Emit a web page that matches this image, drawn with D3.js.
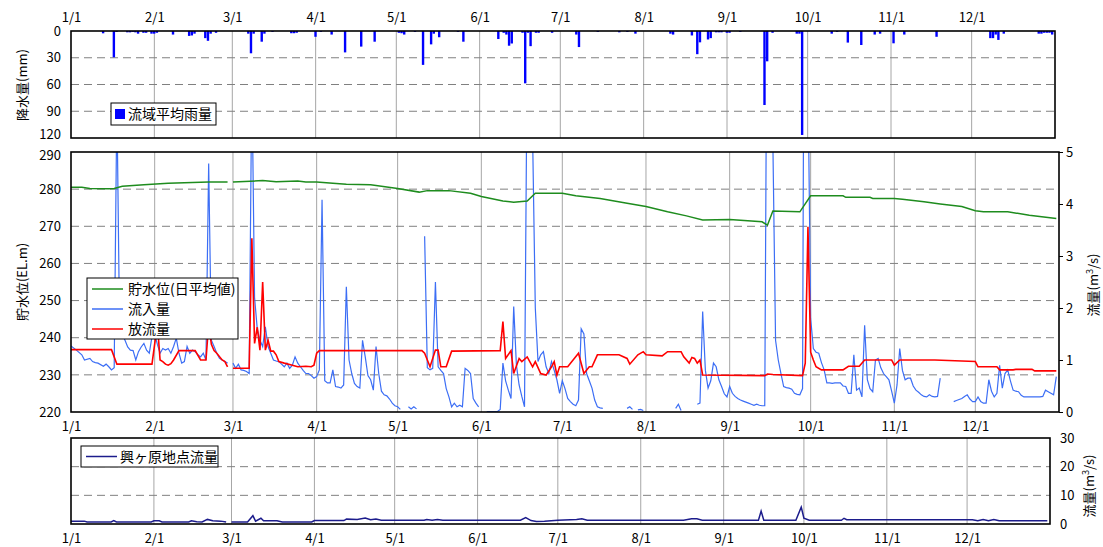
<!DOCTYPE html>
<html>
<head>
<meta charset="utf-8">
<script src="https://cdn.jsdelivr.net/npm/d3@7"></script>
<style>
  body { margin: 0; background: #fff; }
  text { font-family: "Noto Sans CJK JP", "DejaVu Sans", sans-serif; }
</style>
</head>
<body>
<div id="chart"></div>
<script>
// month labels and axis ticks
const months = ["1/1", "2/1", "3/1", "4/1", "5/1", "6/1", "7/1", "8/1", "9/1", "10/1", "11/1", "12/1"];
const rainTicks = [0, 30, 60, 90, 120];
const levelTicks = [220, 230, 240, 250, 260, 270, 280, 290];
const flowTicks = [0, 1, 2, 3, 4, 5];
const riverTicks = [0, 10, 20, 30];

// 流域平均雨量 (mm)
const rain = [
  ["1/13", 2.6], ["1/17", 29.5], ["1/18", 1], ["1/22", 1.5], ["1/23", 1.5], ["1/24", 1], ["1/25", 1.5], ["1/26", 3],
  ["1/28", 2], ["1/29", 2], ["1/31", 3], ["2/1", 3], ["2/2", 2], ["2/8", 4], ["2/14", 5.5], ["2/15", 5], ["2/16", 3],
  ["2/20", 8], ["2/21", 11], ["2/22", 3], ["2/24", 2], ["3/7", 3], ["3/8", 25], ["3/9", 3], ["3/12", 12], ["3/13", 3],
  ["3/16", 1], ["3/23", 2.5], ["3/24", 2.5], ["3/25", 2], ["4/1", 6.5], ["4/3", 1], ["4/7", 4], ["4/12", 24],
  ["4/18", 17.5], ["4/23", 12], ["5/2", 2], ["5/3", 2.5], ["5/4", 4], ["5/8", 1], ["5/11", 38], ["5/14", 15],
  ["5/15", 3], ["5/17", 7], ["5/24", 1], ["5/26", 12], ["6/8", 9], ["6/10", 2], ["6/11", 4], ["6/12", 16.5],
  ["6/13", 14], ["6/17", 2], ["6/18", 58.7], ["6/19", 2], ["6/20", 17], ["6/22", 2], ["6/23", 2], ["6/28", 2],
  ["7/7", 4], ["7/8", 18], ["7/15", 1], ["7/23", 1.5], ["7/26", 1], ["7/29", 3], ["8/11", 3], ["8/12", 4],
  ["8/19", 5], ["8/21", 26], ["8/22", 12.7], ["8/25", 9.5], ["8/26", 8], ["8/28", 1.5], ["8/29", 1.5], ["8/30", 1.5],
  ["9/1", 2], ["9/2", 2], ["9/6", 1], ["9/15", 83], ["9/16", 34], ["9/18", 2], ["9/27", 3], ["9/28", 3],
  ["9/29", 116.6], ["10/10", 3], ["10/12", 1], ["10/16", 13], ["10/21", 15.7], ["10/26", 4], ["10/28", 3],
  ["11/2", 13.8], ["11/6", 4], ["11/18", 6.5], ["12/8", 8], ["12/9", 8], ["12/10", 4], ["12/11", 10], ["12/13", 3],
  ["12/26", 3], ["12/27", 3], ["12/28", 2], ["12/29", 2], ["12/30", 2], ["12/31", 4]
];

// 貯水位(日平均値) EL.m
const level = [
  ["1/1", 280.5], ["1/5", 280.5], ["1/8", 280.2], ["1/15", 280.1], ["1/17", 280.2], ["1/20", 280.8], ["1/28", 281.2],
  ["2/6", 281.6], ["2/21", 281.9], ["2/28", 281.9], ["2/29", null], ["3/1", 281.9], ["3/12", 282.3], ["3/17", 282.0],
  ["3/25", 282.2], ["3/28", 281.9], ["4/1", 281.9], ["4/7", 281.6], ["4/12", 281.3], ["4/21", 281.2], ["5/1", 280.2],
  ["5/9", 279.2], ["5/12", 279.6], ["5/20", 279.6], ["5/28", 278.9], ["6/1", 278.0], ["6/9", 276.8], ["6/13", 276.5],
  ["6/18", 276.8], ["6/21", 278.9], ["7/1", 278.9], ["7/6", 278.2], ["7/15", 277.5], ["7/25", 276.2], ["8/1", 275.3],
  ["8/9", 273.9], ["8/16", 272.8], ["8/22", 271.7], ["9/1", 271.8], ["9/13", 271.2], ["9/15", 270.3], ["9/17", 274.1],
  ["9/27", 273.9], ["10/1", 278.2], ["10/13", 278.2], ["10/14", 277.8], ["10/23", 277.8], ["10/24", 277.5],
  ["11/1", 277.5], ["11/4", 277.3], ["11/12", 276.6], ["11/18", 276.0], ["11/26", 275.3], ["12/1", 274.2],
  ["12/4", 273.9], ["12/13", 273.9], ["12/21", 273.0], ["12/31", 272.1]
];

// 流入量 (m3/s)
const inflow = [
  ["1/1", 1.27], ["1/3", 1.19], ["1/5", 1.1], ["1/6", 1.0], ["1/8", 1.03], ["1/9", 0.97], ["1/10", 0.95], ["1/11", 0.94],
  ["1/13", 0.88], ["1/14", 0.92], ["1/15", 0.87], ["1/16", 0.81], ["1/17", 0.85], ["1/18", 6], ["1/19", 1.6],
  ["1/20", 1.5], ["1/21", 1.38], ["1/22", 1.25], ["1/23", 1.19], ["1/24", 1.18], ["1/25", 1.0], ["1/26", 1.16],
  ["1/27", 1.25], ["1/28", 1.32], ["1/29", 1.19], ["1/30", 1.13], ["1/31", 1.45], ["2/1", 1.5], ["2/2", 1.3],
  ["2/3", 1.13], ["2/4", 1.22], ["2/5", 1.19], ["2/6", 1.22], ["2/7", 1.13], ["2/8", 1.26], ["2/9", 1.42],
  ["2/10", 1.13], ["2/11", 0.94], ["2/12", 0.97], ["2/13", 1.26], ["2/14", 1.13], ["2/15", 1.19], ["2/16", 1.16],
  ["2/17", 1.1], ["2/18", 1.06], ["2/19", 1.13], ["2/20", 1.0], ["2/21", 4.78], ["2/22", 1.38], ["2/23", 1.26],
  ["2/24", 1.13], ["2/25", 1.03], ["2/26", 1.0], ["2/27", 0.97], ["2/28", 0.94], ["2/29", null],
  ["3/1", 0.94], ["3/2", 0.84], ["3/3", 0.92], ["3/4", 0.81], ["3/5", 0.8], ["3/6", 0.78], ["3/7", 0.74], ["3/8", 6.5],
  ["3/9", 2.2], ["3/10", 1.6], ["3/11", 1.38], ["3/12", 1.26], ["3/13", 1.64], ["3/14", 1.26], ["3/15", 1.13],
  ["3/16", 1.0], ["3/17", 0.98], ["3/18", 0.97], ["3/19", 0.92], ["3/20", 0.87], ["3/21", 0.94], ["3/22", 0.84],
  ["3/23", 0.9], ["3/24", 1.06], ["3/25", 0.94], ["3/26", 0.87], ["3/27", 0.8], ["3/28", 0.74], ["3/29", 0.74],
  ["3/30", 0.7], ["3/31", 0.65], ["4/1", 0.68], ["4/2", 0.81], ["4/3", 4.08], ["4/4", 0.6], ["4/5", 0.56], ["4/6", 0.56],
  ["4/7", 0.81], ["4/8", 0.49], ["4/9", 0.48], ["4/10", 0.46], ["4/11", 0.52], ["4/12", 2.41], ["4/13", 1.0],
  ["4/14", 0.74], ["4/15", 0.55], ["4/16", 0.49], ["4/17", 0.46], ["4/18", 1.38], ["4/19", 1.06], ["4/20", 0.7],
  ["4/21", 0.62], ["4/22", 0.42], ["4/23", 1.26], ["4/24", 0.74], ["4/25", 0.4], ["4/26", 0.33], ["4/27", 0.31],
  ["4/28", 0.25], ["4/29", 0.17], ["4/30", 0.12], ["5/1", 0.1], ["5/2", 0.05], ["5/3", null],
  ["5/5", 0.1], ["5/6", 0.06], ["5/7", 0.1], ["5/8", 0.06], ["5/9", null],
  ["5/11", 3.38], ["5/12", 0.85], ["5/13", 0.81], ["5/14", 0.84], ["5/15", 2.5], ["5/16", 0.87], ["5/17", 0.8],
  ["5/18", 0.74], ["5/19", 0.45], ["5/20", 0.29], ["5/21", 0.1], ["5/22", 0.17], ["5/23", 0.1], ["5/24", 0.13],
  ["5/25", 0.1], ["5/26", 0.84], ["5/27", 0.8], ["5/28", 0.74], ["5/29", 0.26], ["5/30", 0.17], ["5/31", 0.1], ["6/1", null],
  ["6/3", 0.01], ["6/4", 0.01], ["6/5", 0.01], ["6/6", 0.01], ["6/7", 0.01], ["6/8", 0.05], ["6/9", 0.94], ["6/10", 0.6],
  ["6/11", 0.42], ["6/12", 0.26], ["6/13", 2.03], ["6/14", 0.9], ["6/15", 0.52], ["6/16", 0.3], ["6/17", 0.1],
  ["6/18", 7], ["6/19", 9], ["6/20", 5.3], ["6/21", 2.0], ["6/22", 0.97], ["6/23", 1.1], ["6/24", 1.16], ["6/25", 0.87],
  ["6/26", 0.74], ["6/27", 0.97], ["6/28", 0.8], ["6/29", 0.62], ["6/30", 0.36], ["7/1", 0.6], ["7/2", 0.45],
  ["7/3", 0.26], ["7/4", 0.2], ["7/5", 0.15], ["7/6", 0.12], ["7/7", 0.23], ["7/8", 1.6], ["7/9", 1.5], ["7/10", 0.74],
  ["7/11", 0.6], ["7/12", 0.46], ["7/13", 0.23], ["7/14", 0.1], ["7/15", 0.08], ["7/16", 0.07], ["7/17", null],
  ["7/25", 0.07], ["7/26", 0.1], ["7/27", 0.05], ["7/28", null], ["7/29", 0.04], ["7/30", 0.05], ["7/31", 0.03], ["8/1", null],
  ["8/12", 0.07], ["8/13", 0.15], ["8/14", 0.03], ["8/15", null],
  ["8/20", 0.15], ["8/21", 0.17], ["8/22", 1.93], ["8/23", 0.8], ["8/24", 0.46], ["8/25", 0.6], ["8/26", 0.94],
  ["8/27", 0.87], ["8/28", 0.62], ["8/29", 0.49], ["8/30", 0.35], ["8/31", 0.29], ["9/1", 0.49], ["9/2", 0.36],
  ["9/3", 0.3], ["9/4", 0.26], ["9/5", 0.23], ["9/6", 0.21], ["9/7", 0.19], ["9/8", 0.17], ["9/9", 0.15], ["9/10", 0.13],
  ["9/11", 0.15], ["9/12", 0.13], ["9/13", 0.12], ["9/14", 0.12], ["9/15", 10], ["9/16", 9], ["9/17", 5.2],
  ["9/18", 1.38], ["9/19", 1.0], ["9/20", 0.74], ["9/21", 0.49], ["9/22", 0.47], ["9/23", 0.46], ["9/24", 0.44],
  ["9/25", 0.36], ["9/26", 0.34], ["9/27", 0.33], ["9/28", 0.45], ["9/29", 15], ["9/30", 6.5], ["10/1", 1.8],
  ["10/2", 1.22], ["10/3", 1.15], ["10/4", 1.13], ["10/5", 0.95], ["10/6", 0.81], ["10/7", 0.56], ["10/8", 0.56],
  ["10/9", 0.55], ["10/10", 0.56], ["10/11", 0.56], ["10/12", 0.56], ["10/13", 0.5], ["10/14", 0.49], ["10/15", 0.36],
  ["10/16", 0.36], ["10/17", 1.1], ["10/18", 0.42], ["10/19", 0.46], ["10/20", 0.29], ["10/21", 1.67], ["10/22", 0.62],
  ["10/23", 0.45], ["10/24", 0.39], ["10/25", 1.0], ["10/26", 1.03], ["10/27", 0.85], ["10/28", 0.74], ["10/29", 0.68],
  ["10/30", 0.62], ["10/31", 0.4], ["11/1", 0.17], ["11/2", 0.52], ["11/3", 1.22], ["11/4", 0.8], ["11/5", 0.62],
  ["11/6", 0.65], ["11/7", 0.65], ["11/8", 0.5], ["11/9", 0.42], ["11/10", 0.38], ["11/11", 0.33], ["11/12", 0.3],
  ["11/13", 0.29], ["11/14", 0.33], ["11/15", 0.3], ["11/16", 0.29], ["11/17", 0.3], ["11/18", 0.65], ["11/19", null],
  ["11/23", 0.2], ["11/24", 0.22], ["11/25", 0.24], ["11/26", 0.26], ["11/27", 0.3], ["11/28", 0.33], ["11/29", 0.25],
  ["11/30", 0.2], ["12/1", 0.2], ["12/2", 0.29], ["12/3", 0.2], ["12/4", 0.17], ["12/5", 0.17], ["12/6", 0.62],
  ["12/7", 0.4], ["12/8", 0.29], ["12/9", 0.36], ["12/10", 0.9], ["12/11", 0.46], ["12/12", 0.74], ["12/13", 0.81],
  ["12/14", 0.6], ["12/15", 0.42], ["12/16", 0.4], ["12/17", 0.39], ["12/18", 0.32], ["12/19", 0.29], ["12/22", 0.29],
  ["12/25", 0.29], ["12/26", 0.3], ["12/27", 0.42], ["12/28", 0.39], ["12/29", 0.36], ["12/30", 0.33], ["12/31", 0.68]
];

// 放流量 (m3/s)
const outflow = [
  ["1/1", 1.2], ["1/16", 1.2], ["1/18", 0.92], ["1/31", 0.92], ["2/2", 1.7], ["2/3", 1.0], ["2/4", 0.97], ["2/5", 0.92],
  ["2/6", 0.9], ["2/7", 0.93], ["2/8", 1.0], ["2/10", 1.18], ["2/16", 1.18], ["2/18", 1.0], ["2/20", 1.0], ["2/21", 1.7],
  ["2/22", 1.3], ["2/23", 1.18], ["2/24", 1.13], ["2/26", 1.0], ["2/27", 0.97], ["2/28", 0.87], ["2/29", null],
  ["3/1", 0.84], ["3/7", 0.84], ["3/8", 3.34], ["3/9", 1.32], ["3/10", 1.63], ["3/11", 1.19], ["3/12", 2.5],
  ["3/13", 1.19], ["3/14", 1.38], ["3/15", 1.17], ["3/16", 1.17], ["3/17", 1.1], ["3/18", 0.97], ["3/20", 0.94],
  ["3/23", 0.9], ["3/25", 0.87], ["3/28", 0.88], ["3/30", 0.87], ["3/31", 0.9], ["4/1", 1.13], ["4/2", 1.18],
  ["5/10", 1.18], ["5/11", 1.13], ["5/13", 0.87], ["5/15", 1.19], ["5/16", 1.19], ["5/17", 0.87], ["5/19", 0.87],
  ["5/21", 1.17], ["6/8", 1.18], ["6/9", 1.74], ["6/10", 1.03], ["6/12", 1.18], ["6/13", 0.74], ["6/15", 1.03],
  ["6/16", 0.97], ["6/18", 1.06], ["6/20", 0.87], ["6/21", 0.97], ["6/23", 0.74], ["6/25", 0.71], ["6/27", 0.87],
  ["6/28", 0.97], ["6/29", 0.71], ["6/30", 0.87], ["7/3", 0.87], ["7/7", 1.13], ["7/9", 0.74], ["7/11", 0.87],
  ["7/12", 0.87], ["7/14", 1.1], ["7/22", 1.1], ["7/25", 1.03], ["7/26", 0.92], ["7/29", 1.1], ["7/31", 1.16],
  ["8/1", 1.1], ["8/7", 1.08], ["8/9", 1.16], ["8/14", 1.16], ["8/15", 1.06], ["8/17", 0.94], ["8/18", 1.05],
  ["8/19", 1.03], ["8/20", 0.94], ["8/21", 1.0], ["8/22", 0.71], ["9/14", 0.7], ["9/15", 0.73], ["9/17", 0.72],
  ["9/28", 0.7], ["9/29", 0.94], ["9/30", 3.56], ["10/1", 1.15], ["10/2", 1.0], ["10/3", 0.87], ["10/5", 0.81],
  ["10/13", 0.81], ["10/15", 0.88], ["10/19", 0.88], ["10/21", 1.0], ["10/31", 1.0], ["11/1", 0.9], ["11/3", 1.0],
  ["11/16", 1.0], ["11/26", 0.98], ["12/1", 0.97], ["12/2", 0.87], ["12/9", 0.87], ["12/10", 0.81], ["12/15", 0.81],
  ["12/16", 0.82], ["12/22", 0.82], ["12/23", 0.79], ["12/31", 0.79]
];

// 興ヶ原地点流量 (m3/s)
const riverFlow = [
  ["1/1", 1.0], ["1/6", 1.0], ["1/7", 0.7], ["1/16", 0.7], ["1/17", 1.2], ["1/18", 0.7], ["1/31", 0.7], ["2/1", 1.1],
  ["2/3", 1.1], ["2/4", 0.7], ["2/14", 0.7], ["2/15", 1.1], ["2/17", 0.8], ["2/19", 0.7], ["2/21", 1.6], ["2/23", 1.1],
  ["2/26", 1.0], ["2/28", 0.7], ["2/29", null], ["3/1", 0.7], ["3/7", 0.7], ["3/9", 2.9], ["3/10", 1.0], ["3/12", 2.0],
  ["3/13", 1.1], ["3/18", 1.1], ["3/20", 0.7], ["3/31", 0.7], ["4/1", 1.2], ["4/12", 1.2], ["4/13", 1.7], ["4/17", 1.6],
  ["4/20", 2.1], ["4/22", 1.5], ["4/24", 1.7], ["4/26", 1.3], ["5/12", 1.3], ["5/13", 1.6], ["5/15", 1.3], ["5/17", 1.6],
  ["5/19", 1.3], ["6/17", 1.3], ["6/19", 2.2], ["6/21", 1.2], ["6/23", 0.9], ["6/26", 1.0], ["7/1", 1.3], ["7/8", 1.6],
  ["7/10", 1.8], ["7/12", 1.3], ["8/17", 1.3], ["8/20", 1.8], ["8/22", 1.8], ["8/24", 1.3], ["9/14", 1.3], ["9/15", 4.5],
  ["9/16", 1.3], ["9/28", 1.3], ["9/30", 5.9], ["10/1", 2.0], ["10/3", 1.3], ["10/15", 1.3], ["10/16", 2.0],
  ["10/17", 1.5], ["12/1", 1.5], ["12/3", 1.5], ["12/5", 1.1], ["12/7", 1.6], ["12/9", 1.1], ["12/11", 1.6],
  ["12/13", 1.1], ["12/31", 1.1]
];

// the chart runs on a 366-slot calendar (2/29 kept as an empty day)
const parseDay = s => { const [m, d] = s.split("/"); return new Date(2000, +m - 1, +d); };
const toPts = arr => arr.map(([d, v]) => ({ date: parseDay(d), v: v }));
const monthDates = months.map(parseDay);
const yearStart = new Date(2000, 0, 1), yearEnd = new Date(2001, 0, 1);
const fmtMonth = (d, i) => months[i];

const pRain = { x0: 71, x1: 1055, y0: 31, y1: 138 };
const pLevel = { x0: 71, x1: 1059, y0: 152, y1: 412 };
const pRiver = { x0: 71, x1: 1050, y0: 438, y1: 524 };

const svg = d3.select("#chart").append("svg")
  .attr("width", 1103)
  .attr("height", 547)
  .style("font-family", '"Noto Sans CJK JP", sans-serif');

function panel(p, x, y, dashVals) {
  const g = svg.append("g");
  g.selectAll("line.vg").data(monthDates.slice(1)).join("line")
    .attr("class", "vg")
    .attr("x1", d => x(d)).attr("x2", d => x(d))
    .attr("y1", p.y0).attr("y2", p.y1)
    .attr("stroke", "#a6a6a6").attr("stroke-width", 1);
  g.selectAll("line.hg").data(dashVals).join("line")
    .attr("class", "hg")
    .attr("x1", p.x0).attr("x2", p.x1)
    .attr("y1", d => y(d)).attr("y2", d => y(d))
    .attr("stroke", "#808080").attr("stroke-width", 1)
    .attr("stroke-dasharray", "8,5");
  return g;
}

function border(p) {
  svg.append("rect")
    .attr("x", p.x0).attr("y", p.y0)
    .attr("width", p.x1 - p.x0).attr("height", p.y1 - p.y0)
    .attr("fill", "none").attr("stroke", "#000").attr("stroke-width", 1.6);
}

function styleAxis(g) {
  g.select(".domain").remove();
  g.selectAll("text").attr("font-size", 13).attr("fill", "#000")
    .attr("font-family", '"Noto Sans CJK JP", sans-serif');
  g.selectAll(".tick line").attr("stroke", "#000");
}

function clipFor(id, p) {
  svg.append("clipPath").attr("id", id).append("rect")
    .attr("x", p.x0).attr("y", p.y0)
    .attr("width", p.x1 - p.x0).attr("height", p.y1 - p.y0);
}

// ---------- rainfall panel ----------
const xRain = d3.scaleTime().domain([yearStart, yearEnd]).range([pRain.x0, pRain.x1]);
const yRain = d3.scaleLinear().domain([0, 120]).range([pRain.y0, pRain.y1]);
panel(pRain, xRain, yRain, [30, 60, 90]);

const dayW = xRain(new Date(2000, 0, 2)) - xRain(yearStart);
svg.append("g").selectAll("rect").data(toPts(rain)).join("rect")
  .attr("x", d => xRain(d.date) - dayW / 2)
  .attr("y", pRain.y0)
  .attr("width", dayW - 0.3)
  .attr("height", d => yRain(d.v) - pRain.y0)
  .attr("fill", "#0000ff");

svg.append("g").attr("transform", `translate(0,${pRain.y0})`)
  .call(d3.axisTop(xRain).tickValues(monthDates).tickFormat(fmtMonth).tickSize(0).tickPadding(9))
  .call(styleAxis);
svg.append("g").attr("transform", `translate(${pRain.x0},0)`)
  .call(d3.axisLeft(yRain).tickValues(rainTicks).tickSize(0).tickPadding(10))
  .call(styleAxis)
  .selectAll(".tick text").filter(d => d === 120).attr("dy", "0.05em");
border(pRain);

// legend
const lgR = svg.append("g");
lgR.append("rect").attr("x", 111).attr("y", 103).attr("width", 105).attr("height", 22)
  .attr("fill", "#fff").attr("stroke", "#000").attr("stroke-width", 1);
lgR.append("rect").attr("x", 115).attr("y", 109).attr("width", 10).attr("height", 10).attr("fill", "#0000ff");
lgR.append("text").attr("x", 128).attr("y", 119).attr("font-size", 14).text("流域平均雨量");

svg.append("text").attr("transform", "translate(27,85) rotate(-90)")
  .attr("text-anchor", "middle").attr("font-size", 13).text("降水量(mm)");

// ---------- level / flow panel ----------
const xLevel = d3.scaleTime().domain([yearStart, yearEnd]).range([pLevel.x0, pLevel.x1]);
const yLevel = d3.scaleLinear().domain([220, 290]).range([pLevel.y1, pLevel.y0]);
const yFlow = d3.scaleLinear().domain([0, 5]).range([pLevel.y1, pLevel.y0]);
panel(pLevel, xLevel, yLevel, [230, 240, 250, 260, 270, 280]);
clipFor("clipLevel", pLevel);

const lineLevel = d3.line().defined(d => d.v != null).x(d => xLevel(d.date)).y(d => yLevel(d.v));
const lineFlow = d3.line().defined(d => d.v != null).x(d => xLevel(d.date)).y(d => yFlow(d.v));

const gl = svg.append("g").attr("clip-path", "url(#clipLevel)").attr("fill", "none");
gl.append("path").datum(toPts(inflow)).attr("d", lineFlow)
  .attr("stroke", "#3c6ef5").attr("stroke-width", 1.2);
gl.append("path").datum(toPts(outflow)).attr("d", lineFlow)
  .attr("stroke", "#ff0000").attr("stroke-width", 1.6);
gl.append("path").datum(toPts(level)).attr("d", lineLevel)
  .attr("stroke", "#1e8c1e").attr("stroke-width", 1.5);

svg.append("g").attr("transform", `translate(0,${pLevel.y1})`)
  .call(d3.axisBottom(xLevel).tickValues(monthDates).tickFormat(fmtMonth).tickSize(0).tickPadding(10))
  .call(styleAxis);
svg.append("g").attr("transform", `translate(${pLevel.x0},0)`)
  .call(d3.axisLeft(yLevel).tickValues(levelTicks).tickSize(0).tickPadding(10))
  .call(styleAxis)
  .selectAll(".tick text").filter(d => d === 290).attr("dy", "0.6em");
svg.append("g").attr("transform", `translate(${pLevel.x1},0)`)
  .call(d3.axisRight(yFlow).tickValues(flowTicks).tickFormat(d3.format("d")).tickSize(4).tickPadding(3))
  .call(styleAxis);
border(pLevel);

const lgL = svg.append("g");
lgL.append("rect").attr("x", 87).attr("y", 278).attr("width", 151).attr("height", 61)
  .attr("fill", "#fff").attr("stroke", "#000").attr("stroke-width", 1);
const levelLegend = [
  { label: "貯水位(日平均値)", color: "#1e8c1e", y: 289 },
  { label: "流入量", color: "#3c6ef5", y: 309 },
  { label: "放流量", color: "#ff0000", y: 329 }
];
levelLegend.forEach(d => {
  lgL.append("line").attr("x1", 92).attr("x2", 123).attr("y1", d.y).attr("y2", d.y)
    .attr("stroke", d.color).attr("stroke-width", 1.5);
  lgL.append("text").attr("x", 128).attr("y", d.y + 5).attr("font-size", 14).text(d.label);
});

svg.append("text").attr("transform", "translate(27,282) rotate(-90)")
  .attr("text-anchor", "middle").attr("font-size", 13).text("貯水位(EL.m)");

function flowTitle(x, y) {
  const t = svg.append("text").attr("transform", `translate(${x},${y}) rotate(-90)`)
    .attr("text-anchor", "middle").attr("font-size", 13);
  t.append("tspan").text("流量(m");
  t.append("tspan").attr("dy", -5).attr("font-size", 9).text("3");
  t.append("tspan").attr("dy", 5).text("/s)");
}
flowTitle(1098, 285);

// ---------- 興ヶ原 panel ----------
const xRiver = d3.scaleTime().domain([yearStart, yearEnd]).range([pRiver.x0, pRiver.x1]);
const yRiver = d3.scaleLinear().domain([0, 30]).range([pRiver.y1, pRiver.y0]);
panel(pRiver, xRiver, yRiver, [10, 20]);
clipFor("clipRiver", pRiver);

const lineRiver = d3.line().defined(d => d.v != null).x(d => xRiver(d.date)).y(d => yRiver(d.v));
svg.append("g").attr("clip-path", "url(#clipRiver)")
  .append("path").datum(toPts(riverFlow)).attr("d", lineRiver)
  .attr("fill", "none").attr("stroke", "#1c1c8c").attr("stroke-width", 1.5);

svg.append("g").attr("transform", `translate(0,${pRiver.y1})`)
  .call(d3.axisBottom(xRiver).tickValues(monthDates).tickFormat(fmtMonth).tickSize(0).tickPadding(10))
  .call(styleAxis);
svg.append("g").attr("transform", `translate(${pRiver.x1},0)`)
  .call(d3.axisRight(yRiver).tickValues(riverTicks).tickSize(0).tickPadding(10))
  .call(styleAxis);
border(pRiver);

const lgB = svg.append("g");
lgB.append("rect").attr("x", 81).attr("y", 446).attr("width", 137).attr("height", 21)
  .attr("fill", "#fff").attr("stroke", "#000").attr("stroke-width", 1);
lgB.append("line").attr("x1", 86).attr("x2", 117).attr("y1", 456.5).attr("y2", 456.5)
  .attr("stroke", "#1c1c8c").attr("stroke-width", 1.5);
lgB.append("text").attr("x", 120).attr("y", 462).attr("font-size", 14).text("興ヶ原地点流量");

flowTitle(1094, 486);
</script>
</body>
</html>
